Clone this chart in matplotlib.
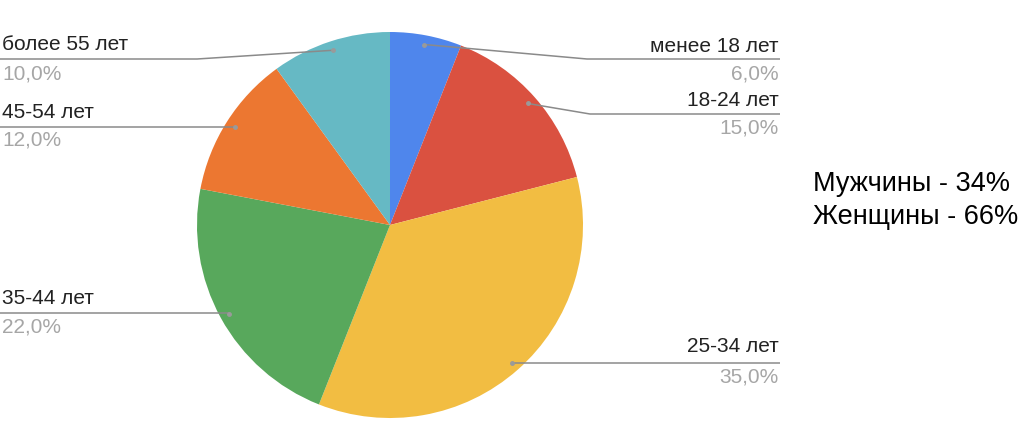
import numpy as np
import matplotlib.pyplot as plt

plt.rcParams['font.family'] = ['Liberation Sans', 'DejaVu Sans']

# data
labels = ['менее 18 лет', '18-24 лет', '25-34 лет', '35-44 лет', '45-54 лет', 'более 55 лет']
shares = [6.0, 15.0, 35.0, 22.0, 12.0, 10.0]
colors = ['#4f86ec', '#da5140', '#f2bd42', '#58a85c', '#ec7731', '#66b9c4']
gender_lines = ['Мужчины - 34%', 'Женщины - 66%']

W, H = 1024, 424
fig = plt.figure(figsize=(W / 100, H / 100), dpi=100)
ax = fig.add_axes([0, 0, 1, 1])

cx, cy, r = 390, H - 225, 193
wedges, _ = ax.pie(shares, colors=colors, startangle=90, counterclock=False,
                   center=(cx, cy), radius=r, frame=True,
                   wedgeprops=dict(linewidth=0))
ax.set_xlim(0, W)
ax.set_ylim(0, H)
ax.set_aspect('equal')
ax.axis('off')

# label layout (image y coords): line y, label y, pct y, elbow x, side
layout = {
    'менее 18 лет': (59, 46, 74, 587, 'right'),
    '18-24 лет': (114, 100, 128, 590, 'right'),
    '25-34 лет': (363, 347, 377, None, 'right'),
    '35-44 лет': (313, 299, 327, None, 'left'),
    '45-54 лет': (127, 113, 140, None, 'left'),
    'более 55 лет': (59, 45, 74, 197, 'left'),
}

line_col = '#8a8a8a'
for w, lab, val in zip(wedges, labels, shares):
    ang = np.deg2rad((w.theta1 + w.theta2) / 2)
    dx = cx + 0.952 * r * np.cos(ang)
    dy = cy + 0.952 * r * np.sin(ang)
    ly, ty, py, ex, side = layout[lab]
    ly, ty, py = H - ly, H - ty, H - py
    xend = 780 if side == 'right' else 0
    if ex is None:
        xs, ys = [dx, xend], [ly, ly]
    else:
        xs, ys = [dx, ex, xend], [dy, ly, ly]
    ax.plot(xs, ys, color=line_col, lw=1.1, solid_capstyle='butt')
    ax.plot(dx, dy, 'o', color='#9a9a9a', ms=2.5)
    if side == 'right':
        tx, ha = 779, 'right'
    else:
        tx, ha = 2, 'left'
    ax.text(tx, ty, lab, ha=ha, va='center', fontsize=15, color='#222222')
    ax.text(tx, py, f'{val:.1f}%'.replace('.', ','), ha=ha, va='center',
            fontsize=15, color='#a6a6a6')

ax.text(813, H - 184, gender_lines[0], ha='left', va='center', fontsize=19.5, color='#000000')
ax.text(813, H - 217, gender_lines[1], ha='left', va='center', fontsize=19.5, color='#000000')

fig.savefig('out.png', dpi=100)
